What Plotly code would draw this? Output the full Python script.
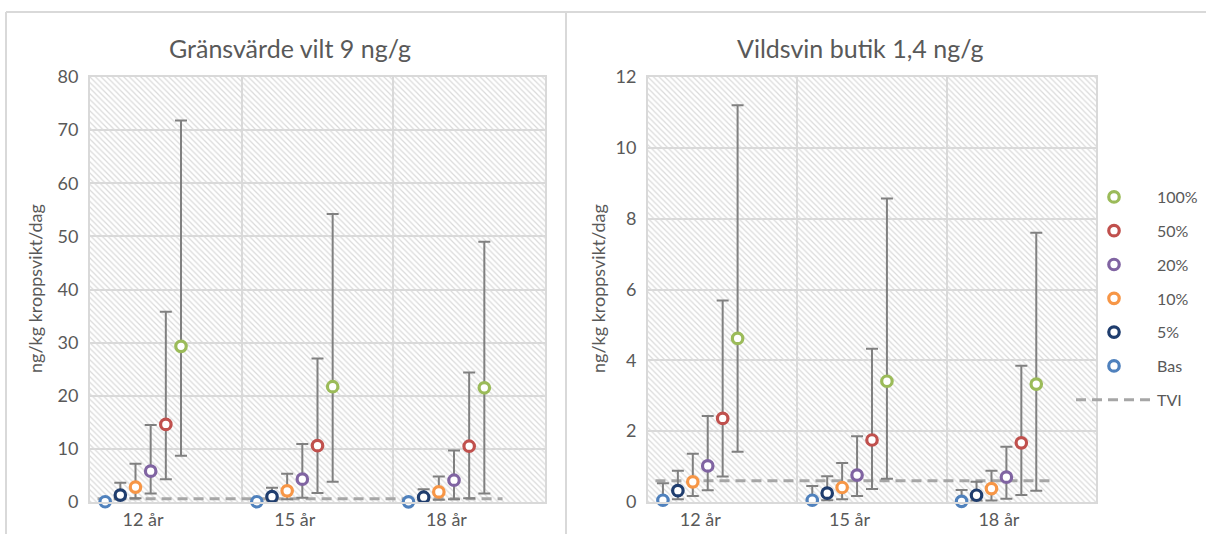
import plotly.graph_objects as go

# ---------------- data ----------------
categories = ["12 år", "15 år", "18 år"]
series = ["Bas", "5%", "10%", "20%", "50%", "100%"]
series_colors = ["#4F81BD", "#1F3D6E", "#F79646", "#8064A2", "#C0504D", "#9BBB59"]
legend_rank = [6, 5, 4, 3, 2, 1]

left_title = "Gränsvärde vilt 9 ng/g"
right_title = "Vildsvin butik 1,4 ng/g"
y_title = "ng/kg kroppsvikt/dag"

# central estimates (per series, per age)
left_mid = [
    [0.05, 0.05, 0.03],
    [1.3, 1.0, 0.9],
    [2.8, 2.1, 1.9],
    [5.8, 4.3, 4.1],
    [14.6, 10.6, 10.5],
    [29.3, 21.7, 21.5],
]
left_low = [
    [0.0, 0.0, 0.0],
    [0.5, 0.3, 0.3],
    [0.7, 0.5, 0.4],
    [1.6, 0.8, 0.5],
    [4.3, 1.7, 0.7],
    [8.7, 3.8, 1.6],
]
left_high = [
    [0.45, 0.45, 0.34],
    [3.6, 2.7, 2.4],
    [7.2, 5.3, 4.8],
    [14.5, 10.9, 9.7],
    [35.8, 27.0, 24.4],
    [71.8, 54.2, 49.0],
]

right_mid = [
    [0.05, 0.05, 0.02],
    [0.32, 0.25, 0.19],
    [0.57, 0.41, 0.38],
    [1.02, 0.76, 0.70],
    [2.36, 1.75, 1.67],
    [4.62, 3.41, 3.33],
]
right_low = [
    [0.0, 0.0, 0.0],
    [0.08, 0.05, 0.04],
    [0.17, 0.08, 0.04],
    [0.33, 0.17, 0.09],
    [0.72, 0.37, 0.20],
    [1.42, 0.66, 0.32],
]
right_high = [
    [0.53, 0.45, 0.34],
    [0.88, 0.73, 0.57],
    [1.36, 1.10, 0.88],
    [2.43, 1.86, 1.56],
    [5.69, 4.33, 3.85],
    [11.2, 8.57, 7.6],
]

tvi_value = 0.6
tvi_span = [0.05, 2.72]

left_ymax, left_dtick = 80, 10
right_ymax, right_dtick = 12, 2

# ---------------- layout helpers ----------------
W, H = 1206, 534
GREY_TXT = "#595959"
GRID = "#D9D9D9"
FONT = "Lato"


def px(x):
    return x / W


def py(y):
    return (H - y) / H


offsets = [0.1, 0.2, 0.3, 0.4, 0.5, 0.6]

fig = go.Figure()


def add_panel(xa, ya, mid, low, high, ymax, show_legend):
    # hatched plot-area background
    fig.add_trace(go.Bar(
        x=[1.5], y=[ymax], width=[3], base=0,
        marker=dict(color="rgba(0,0,0,0)", line=dict(width=0),
                    pattern=dict(shape="\\", fgcolor="#DADADA", bgcolor="rgba(0,0,0,0)",
                                 size=4, solidity=0.3, fillmode="replace")),
        hoverinfo="skip", showlegend=False, xaxis=xa, yaxis=ya,
    ))
    # TVI line
    fig.add_trace(go.Scatter(
        x=tvi_span, y=[tvi_value, tvi_value], mode="lines", name="TVI",
        line=dict(color="#A6A6A6", width=3, dash="10px,6px"),
        showlegend=show_legend, legendrank=7, legendgroup="TVI",
        xaxis=xa, yaxis=ya, cliponaxis=False,
    ))
    for s, name in enumerate(series):
        xs = [i + offsets[s] for i in range(len(categories))]
        m = mid[s]
        up = [high[s][i] - m[i] for i in range(len(m))]
        dn = [m[i] - low[s][i] for i in range(len(m))]
        fig.add_trace(go.Scatter(
            x=xs, y=m, mode="markers", name=name,
            marker=dict(symbol="circle", size=10.5, color="white",
                        line=dict(color=series_colors[s], width=3.2)),
            error_y=dict(type="data", symmetric=False, array=up, arrayminus=dn,
                         color="#808080", thickness=2, width=6),
            showlegend=show_legend, legendrank=legend_rank[s], legendgroup=name,
            xaxis=xa, yaxis=ya, cliponaxis=False,
        ))


add_panel("x", "y", left_mid, left_low, left_high, left_ymax, False)
add_panel("x2", "y2", right_mid, right_low, right_high, right_ymax, True)

xaxis_common = dict(
    range=[0, 3], tickmode="array",
    tickvals=[i + 0.35 for i in range(len(categories))], ticktext=categories,
    showgrid=False, zeroline=False, showline=True, linecolor=GRID, linewidth=2, mirror=True,
    ticks="", tickfont=dict(family=FONT, size=18, color=GREY_TXT),
    minor=dict(tickmode="linear", tick0=0, dtick=1, showgrid=True, gridcolor=GRID,
               gridwidth=2, ticks=""),
    fixedrange=True, automargin=False,
)
yaxis_common = dict(
    showgrid=True, gridcolor=GRID, gridwidth=2, zeroline=False,
    showline=True, linecolor=GRID, linewidth=2, mirror=True, ticks="",
    tickfont=dict(family=FONT, size=18, color=GREY_TXT), ticklabelstandoff=6,
    fixedrange=True, automargin=False,
)

fig.update_layout(
    width=W, height=H,
    margin=dict(l=0, r=0, t=0, b=0, pad=0, autoexpand=False),
    paper_bgcolor="white", plot_bgcolor="white",
    barmode="overlay",
    xaxis=dict(domain=[px(90), px(545)], anchor="y", **xaxis_common),
    xaxis2=dict(domain=[px(648), px(1096)], anchor="y2", **xaxis_common),
    yaxis=dict(domain=[py(502), py(77)], anchor="x", range=[0, left_ymax], dtick=left_dtick,
               **yaxis_common),
    yaxis2=dict(domain=[py(502), py(77)], anchor="x2", range=[0, right_ymax], dtick=right_dtick,
                **yaxis_common),
    legend=dict(x=px(1071), y=py(180), xanchor="left", yanchor="top",
                font=dict(family=FONT, size=16, color=GREY_TXT),
                bgcolor="rgba(0,0,0,0)", tracegroupgap=10, itemwidth=76),
    showlegend=True,
)

fig.add_annotation(text=left_title, x=px(290), y=py(48), xref="paper", yref="paper",
                   xanchor="center", yanchor="middle", showarrow=False,
                   font=dict(family=FONT, size=25, color=GREY_TXT))
fig.add_annotation(text=right_title, x=px(860), y=py(48), xref="paper", yref="paper",
                   xanchor="center", yanchor="middle", showarrow=False,
                   font=dict(family=FONT, size=25, color=GREY_TXT))
for xc in (35, 598):
    fig.add_annotation(text=y_title, x=px(xc), y=py(289), xref="paper", yref="paper",
                       xanchor="center", yanchor="middle", textangle=-90, showarrow=False,
                       font=dict(family=FONT, size=18, color=GREY_TXT))

# chart borders
fig.add_shape(type="line", xref="paper", yref="paper", x0=px(6), x1=1, y0=py(12), y1=py(12),
              line=dict(color=GRID, width=2))
fig.add_shape(type="line", xref="paper", yref="paper", x0=px(6), x1=px(6), y0=0, y1=py(12),
              line=dict(color=GRID, width=2))
fig.add_shape(type="line", xref="paper", yref="paper", x0=px(566), x1=px(566), y0=0, y1=py(12),
              line=dict(color=GRID, width=2))

fig.write_html("out.html", config={"displayModeBar": False},
               post_script="document.body.style.margin='0px';")
